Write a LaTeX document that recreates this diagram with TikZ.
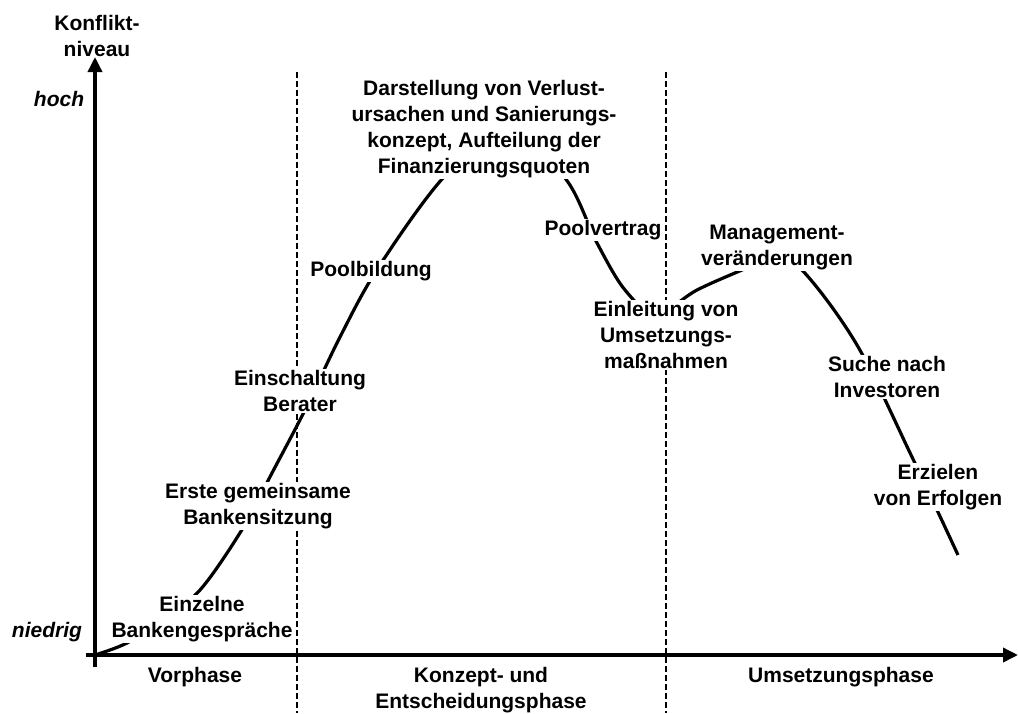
\documentclass[tikz,border=0pt]{standalone}
\usepackage{fontspec}
\setmainfont{Liberation Sans}
\usetikzlibrary{arrows.meta}
\begin{document}
\begin{tikzpicture}[x=1pt,y=-1pt,
  lbl/.style={font=\fontsize{21}{26}\selectfont\bfseries, align=center, inner sep=1.5pt},
  cover/.style={lbl, fill=white},
  ital/.style={font=\fontsize{21}{26}\selectfont\bfseries\itshape, inner sep=1.5pt},
  phaseline/.style={line width=2.6pt, dash pattern=on 6pt off 3pt},
  curveline/.style={line width=3.2pt},
  axisline/.style={line width=3.5pt, -{Triangle[length=15pt,width=14pt]}}]
\useasboundingbox (0,0) rectangle (1018,713);
% phase separators
\coordinate (d1t) at (297,72); \coordinate (d1b) at (297,713);
\coordinate (d2t) at (666,72); \coordinate (d2b) at (666,713);
\draw[phaseline] (d1t) -- (d1b);
\draw[phaseline] (d2t) -- (d2b);
% conflict curve
\draw[curveline] plot[smooth, tension=0.55] coordinates {
 (95,655) (127,643) (160,621) (200,590) (243,528) (272,473) (305,410)
 (340,337) (378,268) (443,178) (505,128) (565,178) (597,243) (625,290)
 (656,314) (697,290) (742,270) (772,258) (802,270) (857,345) (912,457) (958,555)};
% labels on the curve
\node[cover] (ein) at (202,619) {Einzelne\\Bankengespräche};
\node[cover] (erste) at (258,506) {Erste gemeinsame\\Bankensitzung};
\node[cover] (berater) at (300,391) {Einschaltung\\Berater};
\node[cover] (pool) at (371,271) {Poolbildung};
\node[cover] (darst) at (484,129) {Darstellung von Verlust-\\ursachen und Sanierungs-\\konzept, Aufteilung der\\Finanzierungsquoten};
\node[cover] (pv) at (603,230) {Poolvertrag};
\node[cover] (einl) at (666,335) {Einleitung von\\Umsetzungs-\\maßnahmen};
\node[cover] (mgmt) at (777,247) {Management-\\veränderungen};
\node[cover] (suche) at (887,377) {Suche nach\\Investoren};
\node[cover] (erz) at (938,487) {Erzielen\\von Erfolgen};
% phase labels
\node[lbl] (vor) at (195,677) {Vorphase};
\node[lbl] (konz) at (481,690) {Konzept- und\\Entscheidungsphase};
\node[lbl] (ums) at (841,677) {Umsetzungsphase};
% axes
\coordinate (O) at (95,655);
\coordinate (xs) at (86,655); \coordinate (xe) at (1018,655);
\coordinate (ys) at (95,667); \coordinate (ye) at (95,57);
\draw[axisline] (xs) -- (xe);
\draw[axisline] (ys) -- (ye);
\node[lbl] (ylab) at (97,36) {Konflikt-\\niveau};
\node[ital] (hoch) at (59,99) {hoch};
\node[ital] (nied) at (47,632) {niedrig};
\end{tikzpicture}
\end{document}
